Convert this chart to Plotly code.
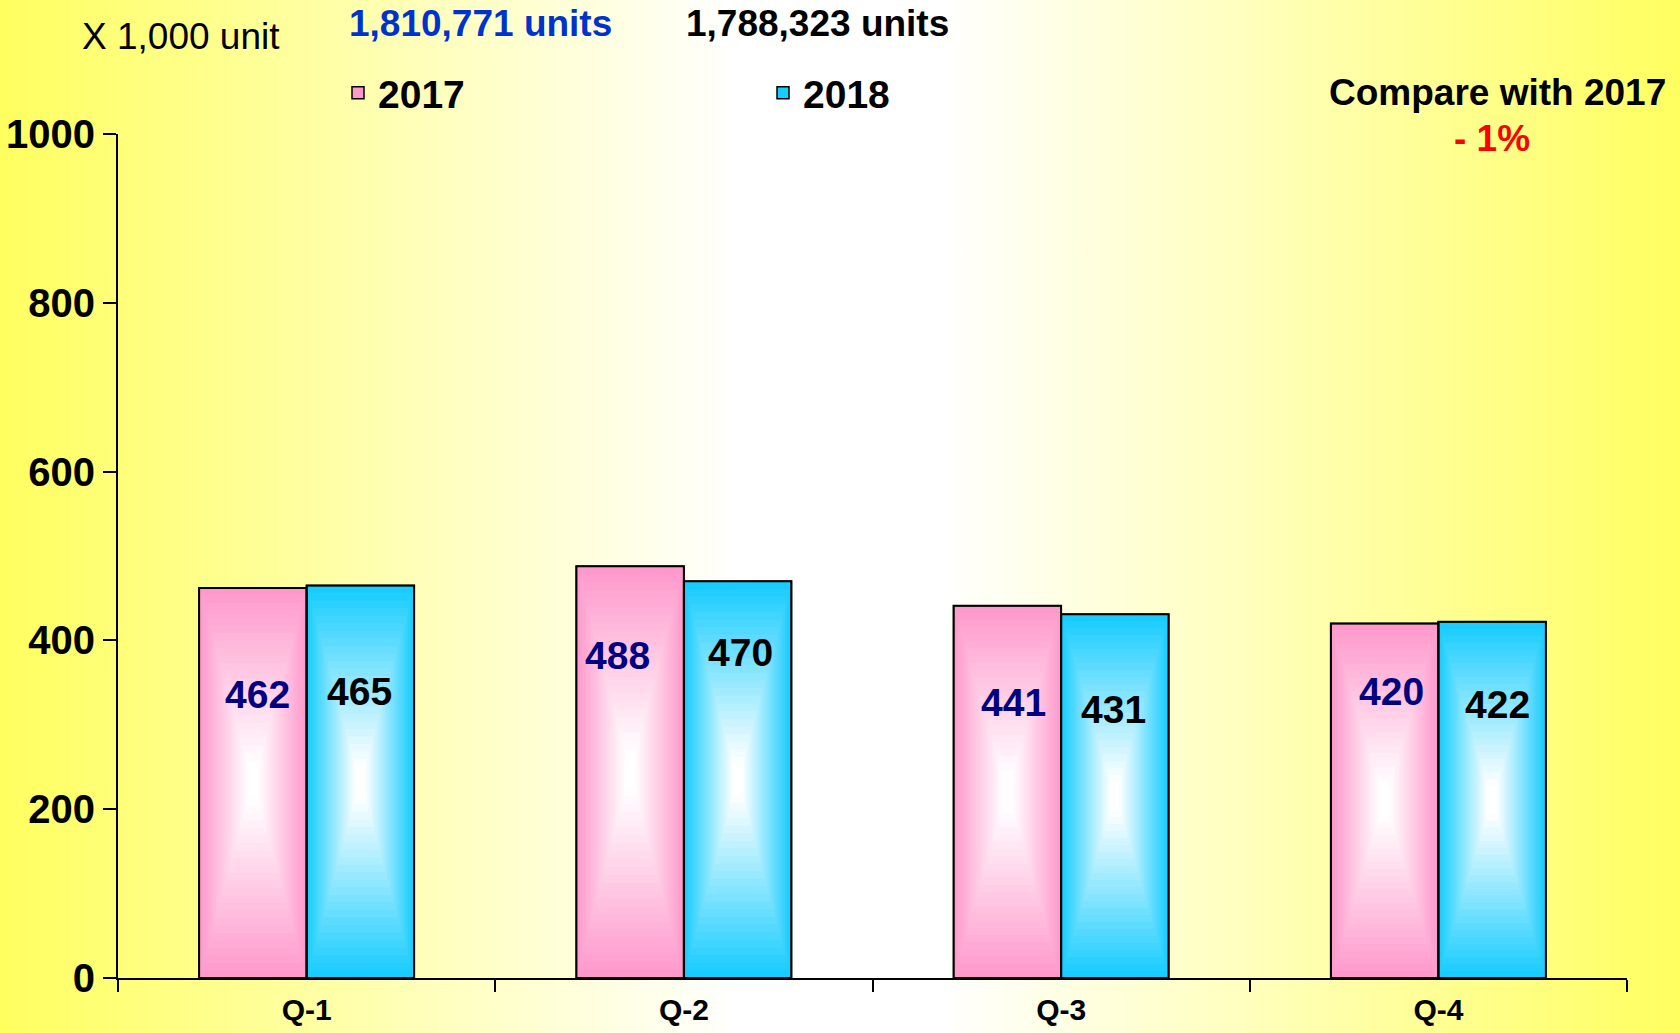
import base64
import plotly.graph_objects as go

# ---------------- data ----------------
quarters = ["Q-1", "Q-2", "Q-3", "Q-4"]
sales_2017 = [462, 488, 441, 420]
sales_2018 = [465, 470, 431, 422]
series_names = ["2017", "2018"]
total_2017_text = "1,810,771 units"
total_2018_text = "1,788,323 units"
unit_text = "X 1,000 unit"
compare_title = "Compare with 2017"
compare_value = "- 1%"
y_ticks = [0, 200, 400, 600, 800, 1000]

# ---------------- layout / style constants ----------------
FIG_W, FIG_H = 1680, 1033
L, R, T, B = 118, 53, 134, 55
PW, PH = FIG_W - L - R, FIG_H - T - B
FONT = "Liberation Sans, Arial, sans-serif"
BAR_W = 0.285
N_LAYERS = 26
CENTER_FRAC = 0.5
WHITE_AT = 0.9
# value-label placement tweaks (value units below bar top / pixel shift)
LABEL_DROP_2017 = [126, 106, 114, 81]
LABEL_DROP_2018 = [126, 84, 113, 98]
LABEL_XSHIFT_2017 = [4, -12, 6, 6]
LABEL_XSHIFT_2018 = [-1, 3, -1, 5]


def px_x(px):
    return (px - L) / PW


def px_y(py):
    return (FIG_H - B - py) / PH


def mix_white(hexcol, f):
    r, g, b = int(hexcol[1:3], 16), int(hexcol[3:5], 16), int(hexcol[5:7], 16)
    r = round(r + (255 - r) * f)
    g = round(g + (255 - g) * f)
    b = round(b + (255 - b) * f)
    return f"rgb({r},{g},{b})"


fig = go.Figure()

series = [
    (sales_2017, "#FF99CC", -BAR_W / 2, series_names[0], "legend", "#000080",
     LABEL_DROP_2017, LABEL_XSHIFT_2017),
    (sales_2018, "#18CCFF", BAR_W / 2, series_names[1], "legend2", "#000000",
     LABEL_DROP_2018, LABEL_XSHIFT_2018),
]

# gradient layers (rectangular gradient from bar edge to a white centre)
for vals, edge, c, name, leg, _, _, _ in series:
    for k in range(N_LAYERS):
        t = k / N_LAYERS
        f = min(1.0, t / WHITE_AT)
        base = [v * CENTER_FRAC * t for v in vals]
        top = [v - (v - v * CENTER_FRAC) * t for v in vals]
        h = [tp - b for tp, b in zip(top, base)]
        w = BAR_W * (1 - t)
        fig.add_trace(go.Bar(
            x=quarters, y=h, base=base, width=w, offset=c - w / 2,
            marker=dict(color=mix_white(edge, f),
                        line=dict(color="black", width=1.5 if k == 0 else 0)),
            name=name, legend=leg, showlegend=(k == 0), hoverinfo="skip",
        ))
        if f >= 1.0:
            break

# outlines
for vals, edge, c, name, leg, _, _, _ in series:
    fig.add_trace(go.Bar(
        x=quarters, y=vals, width=BAR_W, offset=c - BAR_W / 2,
        marker=dict(color="rgba(0,0,0,0)", line=dict(color="black", width=2)),
        showlegend=False, name=name,
    ))

annotations = []
# value labels
for vals, edge, c, name, leg, col, drops, shifts in series:
    for i, v in enumerate(vals):
        annotations.append(dict(
            x=i + c, y=v - drops[i], xref="x", yref="y", text=str(v),
            xshift=shifts[i] * 1.07,
            showarrow=False, font=dict(family=FONT, size=39, color=col, weight="bold"),
        ))


def ann(text, px, py, size=37, color="black", bold=True):
    annotations.append(dict(
        x=px_x(px), y=px_y(py), xref="paper", yref="paper", text=text,
        showarrow=False, xanchor="center", yanchor="middle",
        font=dict(family=FONT, size=size, color=color, weight="bold" if bold else "normal"),
    ))


ann(unit_text, 181, 37, size=37, bold=False)
ann(total_2017_text, 480, 23, color="#0033CC")
ann(total_2018_text, 817, 23)
ann(compare_title, 1497, 93)
ann(compare_value, 1492, 139, color="#FF0000")

svg = (
    f'<svg xmlns="http://www.w3.org/2000/svg" width="{FIG_W}" height="{FIG_H}" '
    f'viewBox="0 0 {FIG_W} {FIG_H}" preserveAspectRatio="none">'
    '<defs><linearGradient id="g" x1="0" y1="0" x2="1" y2="0">'
    '<stop offset="0" stop-color="#FFFF60"/>'
    '<stop offset="0.44" stop-color="#FFFFFF"/>'
    '<stop offset="0.56" stop-color="#FFFFFF"/>'
    '<stop offset="1" stop-color="#FFFF60"/>'
    '</linearGradient></defs>'
    f'<rect width="{FIG_W}" height="{FIG_H}" fill="url(#g)"/></svg>'
)
bg_src = "data:image/svg+xml;base64," + base64.b64encode(svg.encode()).decode()

legend_common = dict(
    orientation="h", yanchor="middle", xanchor="left", bgcolor="rgba(0,0,0,0)",
    font=dict(family=FONT, size=39, color="black", weight="bold"),
    itemclick=False, itemdoubleclick=False,
)

fig.update_layout(
    width=FIG_W, height=FIG_H,
    margin=dict(l=L, r=R, t=T, b=B, pad=0, autoexpand=False),
    paper_bgcolor="#FFFFFF", plot_bgcolor="rgba(0,0,0,0)",
    barmode="overlay",
    showlegend=True,
    legend=dict(x=px_x(338), y=px_y(93), **legend_common),
    legend2=dict(x=px_x(763), y=px_y(93), **legend_common),
    annotations=annotations,
    images=[dict(
        source=bg_src, xref="paper", yref="paper",
        x=-L / PW, y=1 + T / PH, sizex=FIG_W / PW, sizey=FIG_H / PH,
        xanchor="left", yanchor="top", sizing="stretch", layer="below",
    )],
    xaxis=dict(
        type="category", range=[-0.5, 3.5], showline=True, linecolor="black", linewidth=2,
        ticks="outside", tickson="boundaries", ticklen=12, tickwidth=2, tickcolor="black",
        showgrid=False, zeroline=False, ticklabelstandoff=4, automargin=False,
        tickfont=dict(family=FONT, size=30, color="black", weight="bold"),
    ),
    yaxis=dict(
        range=[0, 1000], tickvals=y_ticks, showline=True, linecolor="black", linewidth=2,
        ticks="outside", ticklen=13, tickwidth=2, tickcolor="black",
        showgrid=False, zeroline=False, automargin=False,
        tickfont=dict(family=FONT, size=40, color="black", weight="bold"),
    ),
)

fig.write_html(
    "out.html",
    config={"displayModeBar": False, "responsive": False},
    post_script="document.body.style.margin='0';document.body.style.overflow='hidden';",
)
